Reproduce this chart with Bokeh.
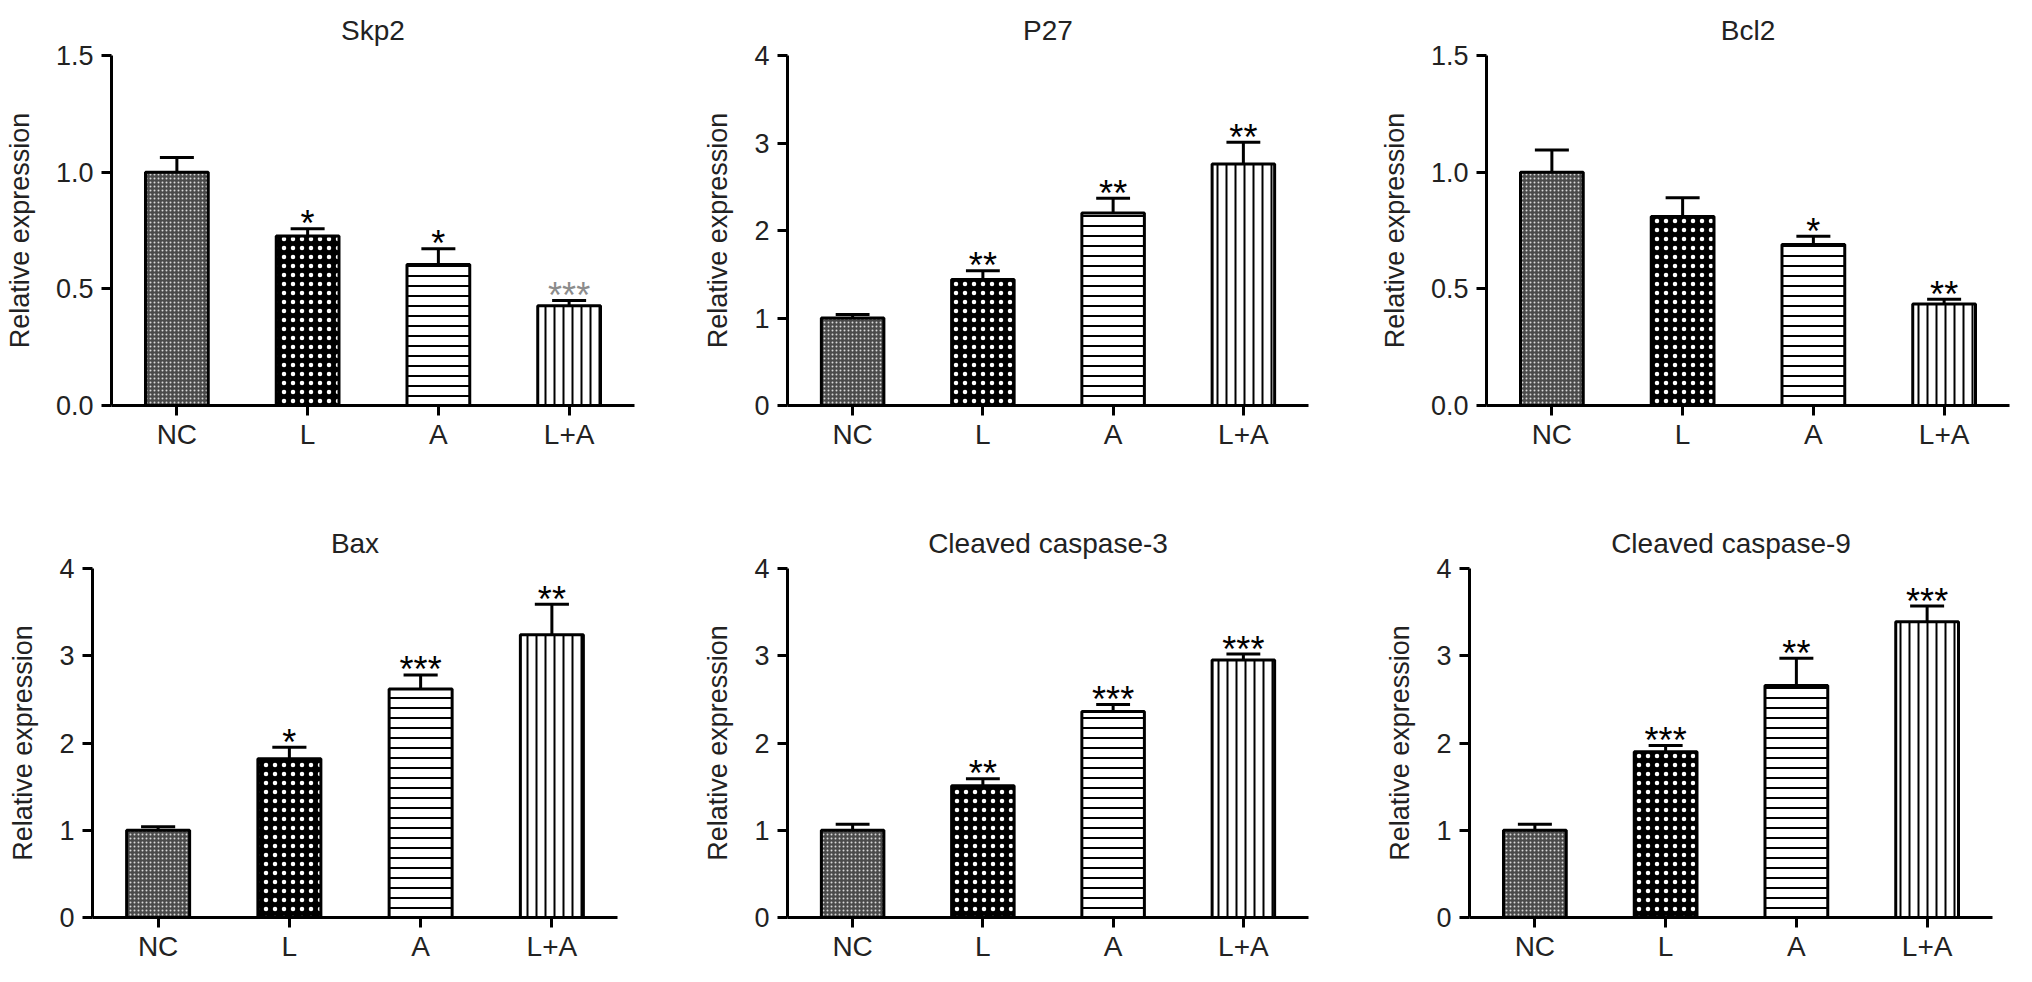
from bokeh.plotting import figure
from bokeh.models import Range1d, FixedTicker, ColumnDataSource
from bokeh.layouts import column, row
from bokeh.embed import file_html
from bokeh.resources import INLINE
from bokeh.core.properties import value

# ---------------- data ----------------
groups = ["NC", "L", "A", "L+A"]
group_pos = [0, 1, 2, 3]

titles = ["Skp2", "P27", "Bcl2", "Bax", "Cleaved caspase-3", "Cleaved caspase-9"]

skp2_mean = [1.00, 0.726, 0.604, 0.427]
skp2_err = [0.063, 0.032, 0.068, 0.023]
skp2_sig = ["", "*", "*", "***"]

p27_mean = [1.00, 1.44, 2.20, 2.76]
p27_err = [0.04, 0.10, 0.17, 0.25]
p27_sig = ["", "**", "**", "**"]

bcl2_mean = [1.00, 0.81, 0.69, 0.435]
bcl2_err = [0.095, 0.08, 0.035, 0.02]
bcl2_sig = ["", "", "*", "**"]

bax_mean = [1.00, 1.82, 2.62, 3.24]
bax_err = [0.04, 0.13, 0.16, 0.35]
bax_sig = ["", "*", "***", "**"]

casp3_mean = [1.00, 1.51, 2.36, 2.95]
casp3_err = [0.07, 0.08, 0.08, 0.07]
casp3_sig = ["", "**", "***", "***"]

casp9_mean = [1.00, 1.90, 2.66, 3.39]
casp9_err = [0.07, 0.07, 0.31, 0.18]
casp9_sig = ["", "***", "**", "***"]

y_max_small = 1.5
y_ticks_small = [0.0, 0.5, 1.0, 1.5]
y_labels_small = ["0.0", "0.5", "1.0", "1.5"]
y_max_large = 4
y_ticks_large = [0, 1, 2, 3, 4]
y_labels_large = ["0", "1", "2", "3", "4"]

y_axis_label = "Relative expression"

# ---------------- styles ----------------
FONT = "Liberation Sans"
bar_styles = [
    dict(fill_color="#4a4a4a", hatch_pattern=".", hatch_color="#d8d8d8", hatch_scale=4, hatch_weight=1),
    dict(fill_color="black", hatch_pattern=".", hatch_color="white", hatch_scale=9, hatch_weight=1),
    dict(fill_color="white", hatch_pattern="-", hatch_color="black", hatch_scale=10, hatch_weight=2),
    dict(fill_color="white", hatch_pattern="|", hatch_color="black", hatch_scale=9, hatch_weight=2),
]


def make_panel(title, means, errs, sigs, star_colors, ymax, yticks, ylabels,
               width, height, mbl, mbr, mbt, mbb):
    p = figure(width=width, height=height,
               x_range=Range1d(-0.5, 3.5), y_range=Range1d(0, ymax),
               output_backend="svg", toolbar_location=None,
               min_border_left=mbl, min_border_right=mbr,
               min_border_top=mbt, min_border_bottom=mbb)
    p.outline_line_color = None
    p.grid.visible = False
    p.background_fill_color = "white"
    p.border_fill_color = "white"

    p.title.text = title
    p.title.align = "center"
    p.title.text_font = FONT
    p.title.text_font_size = "28px"
    p.title.text_font_style = "normal"
    p.title.text_color = "#222222"
    p.title.standoff = 20

    for ax in (p.xaxis[0], p.yaxis[0]):
        ax.axis_line_width = 3
        ax.axis_line_color = "black"
        ax.major_tick_line_width = 3
        ax.major_tick_line_color = "black"
        ax.major_tick_in = 0
        ax.major_tick_out = 10
        ax.minor_tick_line_color = None
        ax.major_label_text_font = FONT
        ax.major_label_text_color = "#222222"

    xa = p.xaxis[0]
    xa.ticker = FixedTicker(ticks=group_pos)
    xa.major_label_overrides = {pos: g for pos, g in zip(group_pos, groups)}
    xa.major_label_text_font_size = "28px"
    xa.major_label_standoff = 3

    ya = p.yaxis[0]
    ya.ticker = FixedTicker(ticks=yticks)
    ya.major_label_overrides = {t: l for t, l in zip(yticks, ylabels)}
    ya.major_label_text_font_size = "27px"
    ya.major_label_standoff = 8
    ya.axis_label = y_axis_label
    ya.axis_label_text_font = FONT
    ya.axis_label_text_font_size = "27px"
    ya.axis_label_text_font_style = "normal"
    ya.axis_label_text_color = "#222222"
    ya.axis_label_standoff = 18

    tops = [m + e for m, e in zip(means, errs)]
    for i in range(len(groups)):
        src = ColumnDataSource(dict(x=[group_pos[i]], top=[means[i]]))
        p.vbar(x="x", top="top", bottom=0, width=0.48, source=src,
               line_color="black", line_width=3, **bar_styles[i])

    cap = 0.13
    src = ColumnDataSource(dict(
        x=group_pos, m=means, t=tops,
        xl=[x - cap for x in group_pos], xr=[x + cap for x in group_pos]))
    p.segment(x0="x", y0="m", x1="x", y1="t", source=src, line_color="black", line_width=3)
    p.segment(x0="xl", y0="t", x1="xr", y1="t", source=src, line_color="black", line_width=3)

    ssrc = ColumnDataSource(dict(x=group_pos, y=tops, s=sigs, c=star_colors))
    p.text(x="x", y="y", text="s", source=ssrc, text_align="center",
           text_baseline="alphabetic", y_offset=-5, text_font_size="36px",
           text_font=value(FONT), text_color="c")
    return p


black4 = ["black"] * 4
skp2_colors = ["black", "black", "black", "#8c8c8c"]

top_h, bot_h = 472, 492
p1 = make_panel(titles[0], skp2_mean, skp2_err, skp2_sig, skp2_colors,
                y_max_small, y_ticks_small, y_labels_small, 654, top_h, 111, 20, 55, 67)
p2 = make_panel(titles[1], p27_mean, p27_err, p27_sig, black4,
                y_max_large, y_ticks_large, y_labels_large, 674, top_h, 133, 20, 55, 67)
p3 = make_panel(titles[2], bcl2_mean, bcl2_err, bcl2_sig, black4,
                y_max_small, y_ticks_small, y_labels_small, 688, top_h, 158, 7, 55, 67)
p4 = make_panel(titles[3], bax_mean, bax_err, bax_sig, black4,
                y_max_large, y_ticks_large, y_labels_large, 637, bot_h, 92, 20, 96, 44)
p5 = make_panel(titles[4], casp3_mean, casp3_err, casp3_sig, black4,
                y_max_large, y_ticks_large, y_labels_large, 691, bot_h, 150, 20, 96, 44)
p6 = make_panel(titles[5], casp9_mean, casp9_err, casp9_sig, black4,
                y_max_large, y_ticks_large, y_labels_large, 688, bot_h, 141, 24, 96, 44)

layout = column(row(p1, p2, p3, spacing=0), row(p4, p5, p6, spacing=0), spacing=0)

open("out.html", "w").write(file_html(layout, INLINE))
